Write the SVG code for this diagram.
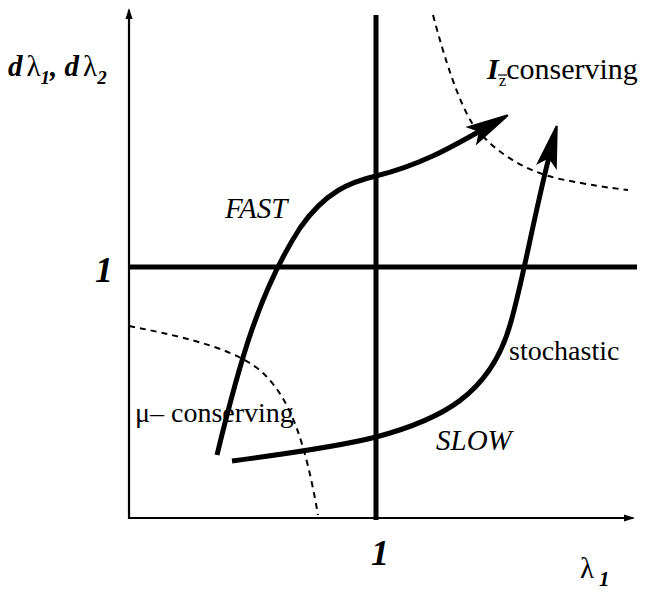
<svg xmlns="http://www.w3.org/2000/svg" width="645" height="592" viewBox="0 0 645 592">
<defs>
<style>
.txt{font-family:"Liberation Serif","Times New Roman",serif;fill:#000}
.bi{font-weight:bold;font-style:italic}
.it{font-style:italic}
.axis{stroke:#000;stroke-width:2.2;fill:none}
.thick{stroke:#000;stroke-width:5;fill:none}
.curve{stroke:#000;stroke-width:5;fill:none;stroke-linecap:butt}
.dash{stroke:#000;stroke-width:2;fill:none;stroke-dasharray:6,5}
</style>
<marker id="ax" markerUnits="userSpaceOnUse" markerWidth="20" markerHeight="20" refX="0" refY="0" orient="auto" overflow="visible">
<path d="M2,0 L-9,-3.5 L-9,3.5 Z" fill="#000"/>
</marker>
<marker id="big" markerUnits="userSpaceOnUse" markerWidth="60" markerHeight="30" refX="0" refY="0" orient="auto" overflow="visible">
<path d="M32,0 L-8,-9 L0,0 L-8,9 Z" fill="#000" stroke="#000" stroke-width="2" stroke-linejoin="miter"/>
</marker>
</defs>
<g id="connectors">
<line class="axis" x1="129" y1="519" x2="129" y2="10" marker-end="url(#ax)"/>
<line class="axis" x1="128" y1="518" x2="633" y2="518" marker-end="url(#ax)"/>
<line class="thick" x1="376" y1="15" x2="376" y2="520"/>
<line class="thick" x1="129" y1="267" x2="637" y2="267"/>
<path class="dash" d="M433,15 C445,60 458,100 472,123 C490,148 520,170 560,179 C590,185 610,188 628,190"/>
<path class="dash" d="M129,326 C190,338 240,350 265,375 C290,400 305,440 318,515"/>
<path class="curve" d="M217,455 C240,360 260,290 300,228 C325,192 350,182 376,176 C420,165 450,148 480,131" marker-end="url(#big)"/>
<path class="curve" d="M232,461 C300,452 345,445 376,437 C440,420 490,395 510,325 C522,285 532,225 549,157" marker-end="url(#big)"/>
</g>
<g id="label-y">
<text class="txt" x="8" y="76" font-size="29"><tspan class="bi">d</tspan><tspan dx="4">λ</tspan><tspan class="bi" font-size="19" dy="8">1</tspan><tspan class="bi" dy="-8">, d</tspan><tspan dx="4">λ</tspan><tspan class="bi" font-size="19" dy="8">2</tspan></text>
</g>
<g id="label-x">
<text class="txt" x="580" y="578" font-size="29">λ<tspan class="bi" font-size="21" dx="5" dy="8">1</tspan></text>
</g>
<g id="tick-1-y">
<text class="txt bi" x="95" y="282" font-size="36">1</text>
</g>
<g id="tick-1-x">
<text class="txt bi" x="371" y="565" font-size="36">1</text>
</g>
<g id="label-iz">
<text class="txt" x="487" y="79" font-size="30"><tspan class="bi">I</tspan><tspan font-size="17" dy="7">z</tspan><tspan dy="-7">conserving</tspan></text>
<line x1="498" y1="75" x2="507" y2="75" stroke="#000" stroke-width="1.2"/>
</g>
<g id="label-fast">
<text class="txt it" x="225" y="218" font-size="29">FAST</text>
</g>
<g id="label-slow">
<text class="txt it" x="436" y="450" font-size="29">SLOW</text>
</g>
<g id="label-stochastic">
<text class="txt" x="509" y="360" font-size="28">stochastic</text>
</g>
<g id="label-mu">
<text class="txt" x="135" y="422" font-size="28">μ– conserving</text>
</g>
</svg>
